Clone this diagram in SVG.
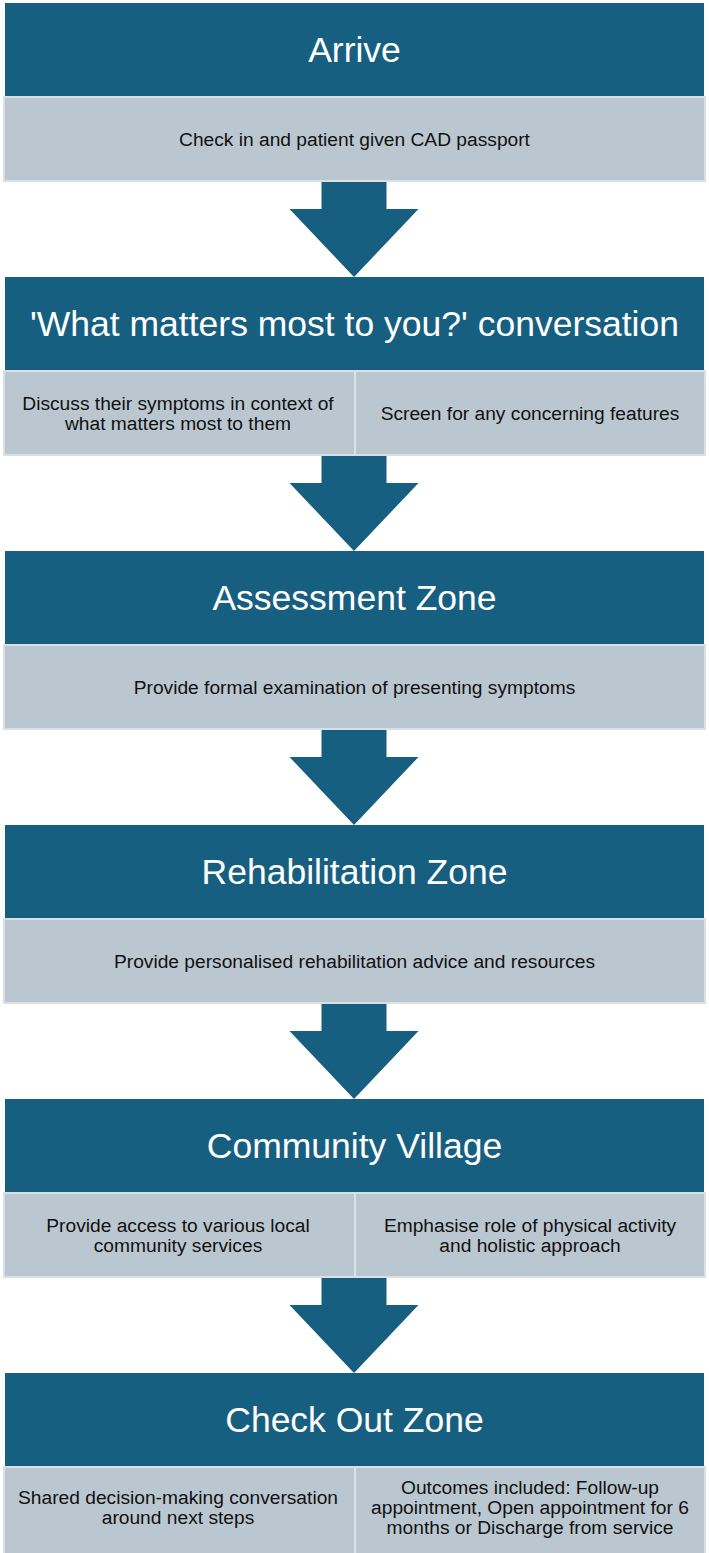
<svg xmlns="http://www.w3.org/2000/svg" width="709" height="1553" viewBox="0 0 709 1553">
<defs>
<style>
.hdr{fill:#175f81}
.box{fill:#bbc7d0;stroke:#d9e0e5;stroke-width:2}
.div{stroke:#dbe2e7;stroke-width:2}
.arr{fill:#175f81}
.t{font-family:"Liberation Sans",Arial,sans-serif;font-size:35.5px;fill:#ffffff;text-anchor:middle}
.b{font-family:"Liberation Sans",Arial,sans-serif;font-size:19.2px;fill:#111111;text-anchor:middle}
</style>
<path id="arrow" d="M321.5,0 H386.5 V28 H418.5 L354,96 L289.5,28 H321.5 Z"/>
</defs>
<rect width="709" height="1553" fill="#ffffff"/>
<g id="connectors">
<use href="#arrow" class="arr" y="181"/>
<use href="#arrow" class="arr" y="455"/>
<use href="#arrow" class="arr" y="729"/>
<use href="#arrow" class="arr" y="1003"/>
<use href="#arrow" class="arr" y="1277"/>
</g>
<g id="arrive">
<rect class="hdr" x="5" y="3" width="699" height="94"/>
<text class="t" x="354.5" y="62">Arrive</text>
<rect class="box" x="4" y="97" width="701" height="84"/>
<text class="b" x="354.5" y="146">Check in and patient given CAD passport</text>
</g>
<g id="conversation">
<rect class="hdr" x="5" y="277" width="699" height="94"/>
<text class="t" x="354.5" y="336">'What matters most to you?' conversation</text>
<rect class="box" x="4" y="371" width="701" height="84"/>
<line class="div" x1="355" y1="371" x2="355" y2="455"/>
<text class="b" x="178" y="410">Discuss their symptoms in context of</text>
<text class="b" x="178" y="430">what matters most to them</text>
<text class="b" x="530" y="420">Screen for any concerning features</text>
</g>
<g id="assessment">
<rect class="hdr" x="5" y="551" width="699" height="94"/>
<text class="t" x="354.5" y="610">Assessment Zone</text>
<rect class="box" x="4" y="645" width="701" height="84"/>
<text class="b" x="354.5" y="694">Provide formal examination of presenting symptoms</text>
</g>
<g id="rehabilitation">
<rect class="hdr" x="5" y="825" width="699" height="94"/>
<text class="t" x="354.5" y="884">Rehabilitation Zone</text>
<rect class="box" x="4" y="919" width="701" height="84"/>
<text class="b" x="354.5" y="968">Provide personalised rehabilitation advice and resources</text>
</g>
<g id="community">
<rect class="hdr" x="5" y="1099" width="699" height="94"/>
<text class="t" x="354.5" y="1158">Community Village</text>
<rect class="box" x="4" y="1193" width="701" height="84"/>
<line class="div" x1="355" y1="1193" x2="355" y2="1277"/>
<text class="b" x="178" y="1232">Provide access to various local</text>
<text class="b" x="178" y="1252">community services</text>
<text class="b" x="530" y="1232">Emphasise role of physical activity</text>
<text class="b" x="530" y="1252">and holistic approach</text>
</g>
<g id="checkout">
<rect class="hdr" x="5" y="1373" width="699" height="94"/>
<text class="t" x="354.5" y="1432">Check Out Zone</text>
<rect class="box" x="4" y="1467" width="701" height="88"/>
<line class="div" x1="355" y1="1467" x2="355" y2="1553"/>
<text class="b" x="178" y="1504">Shared decision-making conversation</text>
<text class="b" x="178" y="1524">around next steps</text>
<text class="b" x="530" y="1494">Outcomes included: Follow-up</text>
<text class="b" x="530" y="1514">appointment, Open appointment for 6</text>
<text class="b" x="530" y="1534">months or Discharge from service</text>
</g>
</svg>
